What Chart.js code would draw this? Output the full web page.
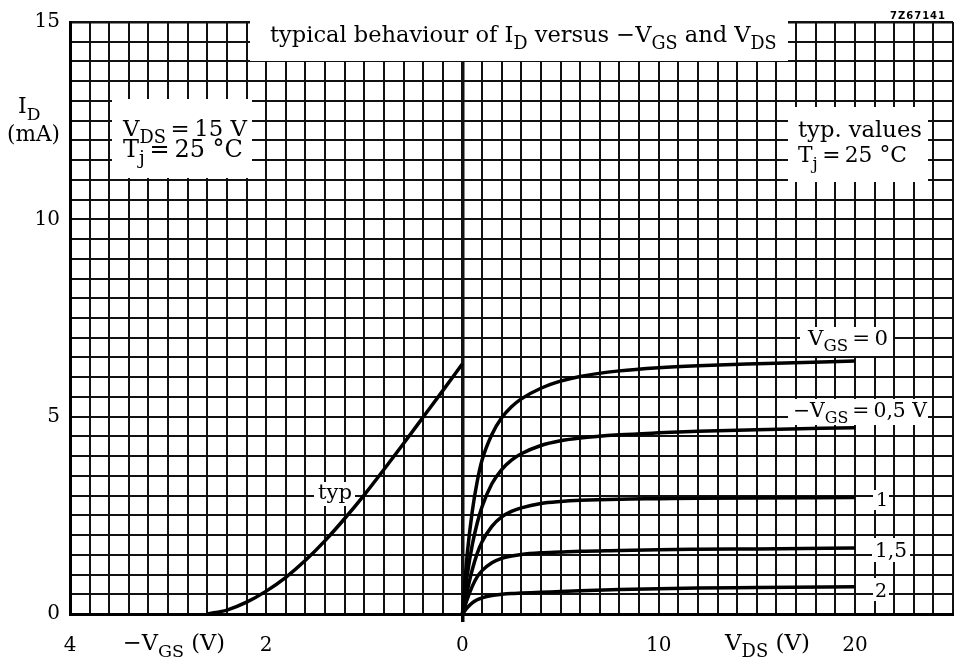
<!DOCTYPE html>
<html>
<head>
<meta charset="utf-8">
<title>ID versus -VGS and VDS</title>
<script src="https://cdn.jsdelivr.net/npm/chart.js"></script>
<style>
	html, body { margin: 0; padding: 0; background: #fff; }
	#chart { display: block; }
</style>
</head>
<body>
<canvas id="chart" width="965" height="668"></canvas>
<script>
// output characteristics, VDS in V, ID in mA
var vdsValues = [0, 0.25, 0.5, 0.75, 1, 1.5, 2, 2.5, 3, 4, 5, 6, 8, 10, 12, 15, 20];
var idVgs0   = [0, 1.55, 2.6, 3.35, 3.9, 4.55, 4.97, 5.25, 5.45, 5.72, 5.9, 6.02, 6.16, 6.24, 6.29, 6.34, 6.41];
var idVgs05  = [0, 1.0, 1.75, 2.3, 2.72, 3.3, 3.66, 3.9, 4.06, 4.27, 4.39, 4.46, 4.54, 4.59, 4.63, 4.67, 4.72];
var idVgs1   = [0, 0.6, 1.12, 1.53, 1.83, 2.22, 2.46, 2.6, 2.69, 2.8, 2.85, 2.88, 2.91, 2.92, 2.93, 2.94, 2.95];
var idVgs15  = [0, 0.38, 0.7, 0.94, 1.1, 1.3, 1.41, 1.47, 1.51, 1.55, 1.57, 1.59, 1.61, 1.63, 1.64, 1.65, 1.67];
var idVgs2   = [0, 0.16, 0.28, 0.36, 0.41, 0.47, 0.5, 0.52, 0.53, 0.55, 0.57, 0.59, 0.62, 0.64, 0.66, 0.67, 0.69];

// transfer characteristic at VDS = 15 V, -VGS in V
var negVgsValues = [2.6, 2.4, 2.2, 2.0, 1.8, 1.6, 1.4, 1.2, 1.0, 0.8, 0.6, 0.4, 0.2, 0];
var idTransfer   = [0, 0.1, 0.3, 0.58, 0.93, 1.36, 1.86, 2.42, 3.02, 3.66, 4.32, 4.99, 5.66, 6.34];

// the -VGS half of the x axis is drawn 5 times wider than the VDS half
var gateStretch = 5;

var xTickPos  = [-20, -10, 0, 10, 20];
var xTickText = ['4', '2', '0', '10', '20'];
var yTickPos  = [0, 5, 10, 15];

var serif = '"DejaVu Serif", "Liberation Serif", serif';

var toPoints = function(xs, ys, k){
	var pts = [];
	for(var i = 0; i < xs.length; i++){
		pts.push({x: xs[i] * k, y: ys[i]});
	}
	pts.sort(function(a, b){ return a.x - b.x; });
	return pts;
};

var curve = function(label, pts){
	return {
		label: label,
		data: pts,
		borderColor: '#000',
		borderWidth: 3.5,
		pointRadius: 0,
		fill: false,
		cubicInterpolationMode: 'monotone'
	};
};

// text with subscripts, optionally squeezed/stretched to a target width
var richText = function(ctx, parts, x, y, size, width){
	var measure = function(s){
		var w = 0;
		parts.forEach(function(p){
			ctx.font = (p[1] ? s * 0.78 : s) + 'px ' + serif;
			w += ctx.measureText(p[0]).width;
		});
		return w;
	};
	if(width){
		size = size * width / measure(size);
		size = Math.max(14, Math.min(24, size));
	}
	parts.forEach(function(p){
		var sub = p[1];
		ctx.font = (sub ? size * 0.78 : size) + 'px ' + serif;
		ctx.fillText(p[0], x, y + (sub ? size * 0.3 : 0));
		x += ctx.measureText(p[0]).width;
	});
};

var th = '\u2009';
var boxes = [
	[250, 21, 538, 40],   // title
	[112, 99, 140, 79],   // VDS = 15 V
	[788, 107, 140, 75],  // typ. values
	[800, 327, 93, 29],   // VGS = 0
	[788, 399, 140, 26],  // -VGS = 0,5 V
	[873, 490, 16, 20],
	[872, 538, 38, 24],
	[873, 578, 16, 23],
	[314, 482, 41, 24]    // typ
];
var notes = [
	[[['typical behaviour of I'], ['D', 1], [' versus \u2212V'], ['GS', 1], [' and V'], ['DS', 1]], 270, 42, 20, 507],
	[[['V'], ['DS', 1], [th + '=' + th + '15 V']], 123, 136, 19, 124],
	[[['T'], ['j', 1], [th + '=' + th + '25 \u00B0C']], 123, 157, 19, 120],
	[[['typ. values']], 798, 137, 19, 124],
	[[['T'], ['j', 1], [th + '=' + th + '25 \u00B0C']], 798, 162, 19, 109],
	[[['V'], ['GS', 1], [th + '=' + th + '0']], 808, 345, 19, 80],
	[[['\u2212V'], ['GS', 1], [th + '=' + th + '0,5 V']], 793, 417, 19, 134],
	[[['1']], 876, 506, 19],
	[[['1,5']], 875, 557, 19, 32],
	[[['2']], 875, 597, 19],
	[[['typ']], 318, 499, 19, 34],
	[[['\u2212V'], ['GS', 1], [' (V)']], 123, 650, 20, 102],
	[[['V'], ['DS', 1], [' (V)']], 725, 650, 20, 85],
	[[['I'], ['D', 1]], 18, 113, 22],
	[[['(mA)']], 7, 141, 19, 53]
];

var notesPlugin = {
	id: 'notes',
	beforeDatasetsDraw: function(chart){
		var ctx = chart.ctx;
		ctx.save();
		ctx.fillStyle = '#fff';
		boxes.forEach(function(b){ ctx.fillRect(b[0], b[1], b[2], b[3]); });
		ctx.restore();
	},
	afterDatasetsDraw: function(chart){
		var ctx = chart.ctx;
		ctx.save();
		ctx.fillStyle = '#000';
		ctx.textBaseline = 'alphabetic';
		notes.forEach(function(n){ richText(ctx, n[0], n[1], n[2], n[3], n[4]); });
		ctx.font = 'bold 10px "DejaVu Sans", sans-serif';
		ctx.letterSpacing = '1px';
		ctx.fillText('7Z67141', 890, 19);
		ctx.restore();
	}
};

var gridWidth = function(c){
	if(!c.tick) return 2;
	if(c.tick.value === 0 && c.scale.axis === 'x') return 3.5;
	return 2;
};

new Chart(document.getElementById('chart'), {
	type: 'line',
	data: {
		datasets: [
			curve('typ', toPoints(negVgsValues, idTransfer, -gateStretch)),
			curve('VGS = 0', toPoints(vdsValues, idVgs0, 1)),
			curve('-VGS = 0,5 V', toPoints(vdsValues, idVgs05, 1)),
			curve('-VGS = 1', toPoints(vdsValues, idVgs1, 1)),
			curve('-VGS = 1,5', toPoints(vdsValues, idVgs15, 1)),
			curve('-VGS = 2', toPoints(vdsValues, idVgs2, 1))
		]
	},
	options: {
		responsive: false,
		animation: false,
		events: [],
		layout: { padding: { top: 19, right: 0, left: 0, bottom: 0 } },
		plugins: {
			legend: { display: false },
			tooltip: { enabled: false }
		},
		scales: {
			x: {
				type: 'linear',
				min: -20,
				max: 25,
				afterFit: function(scale){ scale.height = 54; },
				border: { display: true, color: '#000', width: 3 },
				grid: {
					color: '#111',
					lineWidth: gridWidth,
					drawTicks: true,
					tickLength: 8,
					tickWidth: 3.5,
					tickColor: function(c){ return c.tick && c.tick.value === 0 ? '#000' : 'rgba(0,0,0,0)'; }
				},
				ticks: {
					stepSize: 1,
					autoSkip: false,
					maxRotation: 0,
					minRotation: 0,
					padding: 12,
					color: '#000',
					font: { family: serif, size: 20 },
					callback: function(v){
						var i = xTickPos.indexOf(v);
						return i >= 0 ? xTickText[i] : '';
					}
				}
			},
			y: {
				min: 0,
				max: 15,
				afterFit: function(scale){ scale.width = 70; },
				border: { display: true, color: '#000', width: 3 },
				grid: {
					color: '#111',
					lineWidth: function(c){ return c.tick && c.tick.value === 15 ? 2.5 : 2; },
					drawTicks: false
				},
				ticks: {
					stepSize: 0.5,
					autoSkip: false,
					padding: 10,
					color: '#000',
					font: { family: serif, size: 20 },
					callback: function(v){
						return yTickPos.indexOf(v) >= 0 ? String(v) : '';
					}
				}
			}
		}
	},
	plugins: [notesPlugin]
});
</script>
</body>
</html>
